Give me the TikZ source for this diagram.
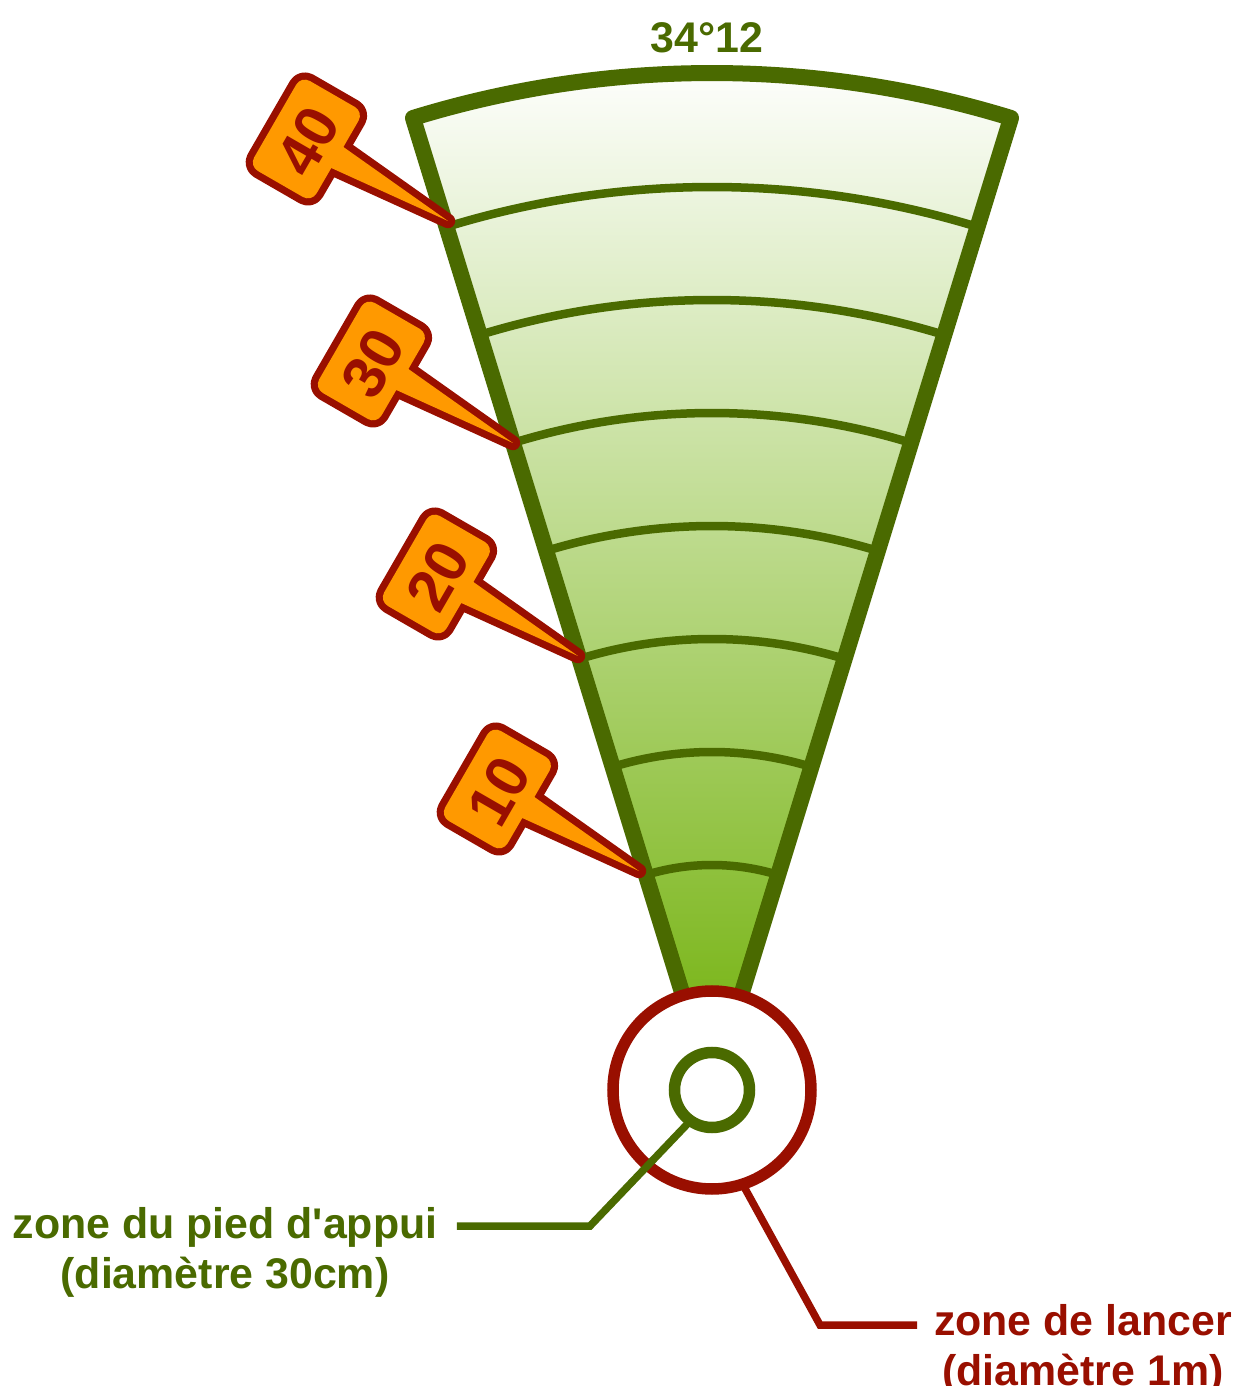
\documentclass[tikz,border=0pt]{standalone}
\usepackage{fontspec}
\setmainfont{Liberation Sans}
\definecolor{vertsecteur}{HTML}{4A6A00}
\definecolor{rougezone}{HTML}{990F00}
\definecolor{orangedrapeau}{HTML}{FF9900}
\definecolor{vertbas}{HTML}{70B008}
\definecolor{verthaut}{HTML}{FFFFFF}
\tikzset{
  secteur/.style={draw=vertsecteur, line width=3.2mm, line join=round, top color=verthaut, bottom color=vertbas},
  arcdist/.style={draw=vertsecteur, line width=1.7mm},
  zone/.style={circle, fill=white, line width=2.3mm, outer sep=0pt, inner sep=0pt},
  renvoi/.style={line width=1.5mm, line join=miter},
  legende/.style={font=\bfseries\fontsize{24.4}{28.4}\selectfont, align=center, inner sep=0pt},
  drapeau/.style={fill=orangedrapeau, preaction={draw=rougezone, line width=2.9mm, line join=round}},
  chiffre/.style={font=\bfseries\fontsize{34}{34}\selectfont, text=rougezone, rotate=60, inner sep=0pt}
}
\begin{document}
\begin{tikzpicture}[x=0.2mm, y=0.2mm]
  \useasboundingbox (-712,-296) rectangle (524,1090);
  % secteur de chute
  \shadedraw[secteur] (0,0) -- (107.1:1017) arc (107.1:72.9:1017) -- cycle;
  \foreach \r in {225,338,451,564,677,790,903} {
    \draw[arcdist] (107.1:\r) arc (107.1:72.9:\r);
  }
  \node[above] (angle) at (-5,1031) {\textcolor{vertsecteur}{\bfseries\fontsize{24.4}{24}\selectfont 34°12}};
  % drapeaux
  \foreach \px/\py/\val in {-264/869/40, -199/647/30, -134/434/20, -73/219/10} {
    \begin{scope}[shift={(\px,\py)}, line join=round]
      \path[drapeau] (-104.6,74) [rounded corners=2mm] -- (-84.4,109) -- (-146.8,145) -- (-198.8,55) -- (-136.4,19) [sharp corners] -- (-116.7,53) -- (0,0) -- cycle;
      \node[chiffre] (d\val) at (-140,80) {\val};
    \end{scope}
  }
  % zones
  \node[zone, draw=rougezone, minimum size=198*0.2mm] (lancer) at (0,0) {};
  \node[zone, draw=vertsecteur, minimum size=75*0.2mm] (pied) at (0,0) {};
  \node[legende, text=vertsecteur] (lpied) at (-487,-162.5) {zone du pied d\textquotesingle appui\\(diamètre 30cm)};
  \node[legende, text=rougezone] (llancer) at (371,-259.5) {zone de lancer\\(diamètre 1m)};
  \coordinate (cpied) at (-122,-136);
  \coordinate (fpied) at (-255,-136);
  \coordinate (clancer) at (108,-235);
  \coordinate (flancer) at (205,-235);
  \draw[renvoi, vertsecteur] (pied.235) -- (cpied) -- (fpied);
  \draw[renvoi, rougezone] (lancer.-72) -- (clancer) -- (flancer);
\end{tikzpicture}
\end{document}
